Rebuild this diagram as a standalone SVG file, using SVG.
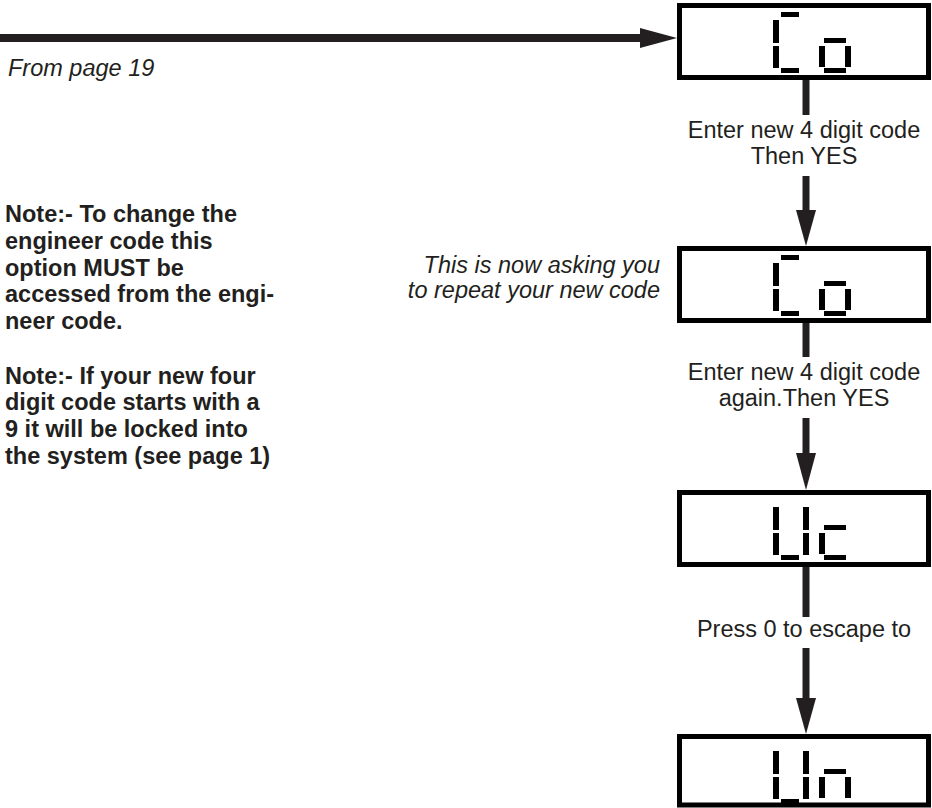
<svg xmlns="http://www.w3.org/2000/svg" xmlns:xlink="http://www.w3.org/1999/xlink" width="932" height="808" viewBox="0 0 932 808">
<style>
.box{fill:#fff;stroke:#000;stroke-width:5}
.seg{fill:#000}
.lbl{font-family:"Liberation Sans",Arial,sans-serif;font-size:23.5px;fill:#231f20;text-anchor:middle}
.it{font-family:"Liberation Sans",Arial,sans-serif;font-size:23.5px;font-style:italic;fill:#231f20}
.note{font-family:"Liberation Sans",Arial,sans-serif;font-size:23.5px;font-weight:bold;fill:#231f20}
.line{stroke:#231f20;stroke-width:7;fill:none}
.head{fill:#231f20}
</style>
<defs>
<g id="d1C" class="seg"><rect x="781" y="9" width="18" height="5"/><rect x="773" y="17" width="6" height="23"/><rect x="773" y="43" width="6" height="22"/><rect x="781" y="65" width="18" height="5"/></g>
<g id="d1U" class="seg"><rect x="773" y="17" width="6" height="23"/><rect x="803" y="17" width="6" height="23"/><rect x="773" y="43" width="6" height="22"/><rect x="803" y="43" width="6" height="22"/><rect x="781" y="65" width="18" height="5"/></g>
<g id="d2o" class="seg"><rect x="824" y="35" width="22" height="5"/><rect x="819" y="43" width="6" height="21"/><rect x="845" y="43" width="6" height="21"/><rect x="824" y="65" width="22" height="5"/></g>
<g id="d2c" class="seg"><rect x="824" y="35" width="22" height="5"/><rect x="819" y="43" width="6" height="21"/><rect x="824" y="65" width="22" height="5"/></g>
<g id="d2n" class="seg"><rect x="824" y="35" width="22" height="5"/><rect x="819" y="43" width="6" height="21"/><rect x="845" y="43" width="6" height="21"/></g>
</defs>

<g id="connectors">
<line class="line" x1="0" y1="38" x2="642" y2="38" style="stroke-width:8"/>
<polygon class="head" points="640,28 677,38 640,48"/>
<line class="line" x1="806" y1="80" x2="806" y2="115"/>
<line class="line" x1="806" y1="176" x2="806" y2="212"/>
<polygon class="head" points="796,210 816,210 806,246"/>
<line class="line" x1="806" y1="323" x2="806" y2="357"/>
<line class="line" x1="806" y1="418" x2="806" y2="455"/>
<polygon class="head" points="796,453 816,453 806,490"/>
<line class="line" x1="806" y1="567" x2="806" y2="617"/>
<line class="line" x1="806" y1="648" x2="806" y2="700"/>
<polygon class="head" points="796,698 816,698 806,734"/>
<text class="lbl" x="804" y="138">Enter new 4 digit code</text>
<text class="lbl" x="804" y="164">Then YES</text>
<text class="lbl" x="804" y="380">Enter new 4 digit code</text>
<text class="lbl" x="804" y="406">again.Then YES</text>
<text class="lbl" x="804" y="637">Press 0 to escape to</text>
</g>

<g id="node1">
<rect class="box" x="679.5" y="5.5" width="249" height="72"/>
<use xlink:href="#d1C" transform="translate(0,3)"/>
<use xlink:href="#d2o" transform="translate(0,3)"/>
</g>
<g id="node2">
<rect class="box" x="679.5" y="248.5" width="249" height="72"/>
<use xlink:href="#d1C" transform="translate(0,246)"/>
<use xlink:href="#d2o" transform="translate(0,246)"/>
</g>
<g id="node3">
<rect class="box" x="679.5" y="492.5" width="249" height="72"/>
<use xlink:href="#d1U" transform="translate(0,490)"/>
<use xlink:href="#d2c" transform="translate(0,490)"/>
</g>
<g id="node4">
<rect class="box" x="679.5" y="736.5" width="249" height="68.5"/>
<use xlink:href="#d1U" transform="translate(0,734)"/>
<use xlink:href="#d2n" transform="translate(0,734)"/>
</g>

<g id="from-note">
<text class="it" x="8" y="76">From page 19</text>
</g>
<g id="repeat-note">
<text class="it" x="660" y="273" text-anchor="end">This is now asking you</text>
<text class="it" x="660" y="298" text-anchor="end">to repeat your new code</text>
</g>
<g id="notes">
<text class="note" x="5" y="222">Note:- To change the</text>
<text class="note" x="5" y="249">engineer code this</text>
<text class="note" x="5" y="276">option MUST be</text>
<text class="note" x="5" y="302">accessed from the engi-</text>
<text class="note" x="5" y="329">neer code.</text>
<text class="note" x="5" y="384">Note:- If your new four</text>
<text class="note" x="5" y="410">digit code starts with a</text>
<text class="note" x="5" y="437">9 it will be locked into</text>
<text class="note" x="5" y="464">the system (see page 1)</text>
</g>
</svg>
